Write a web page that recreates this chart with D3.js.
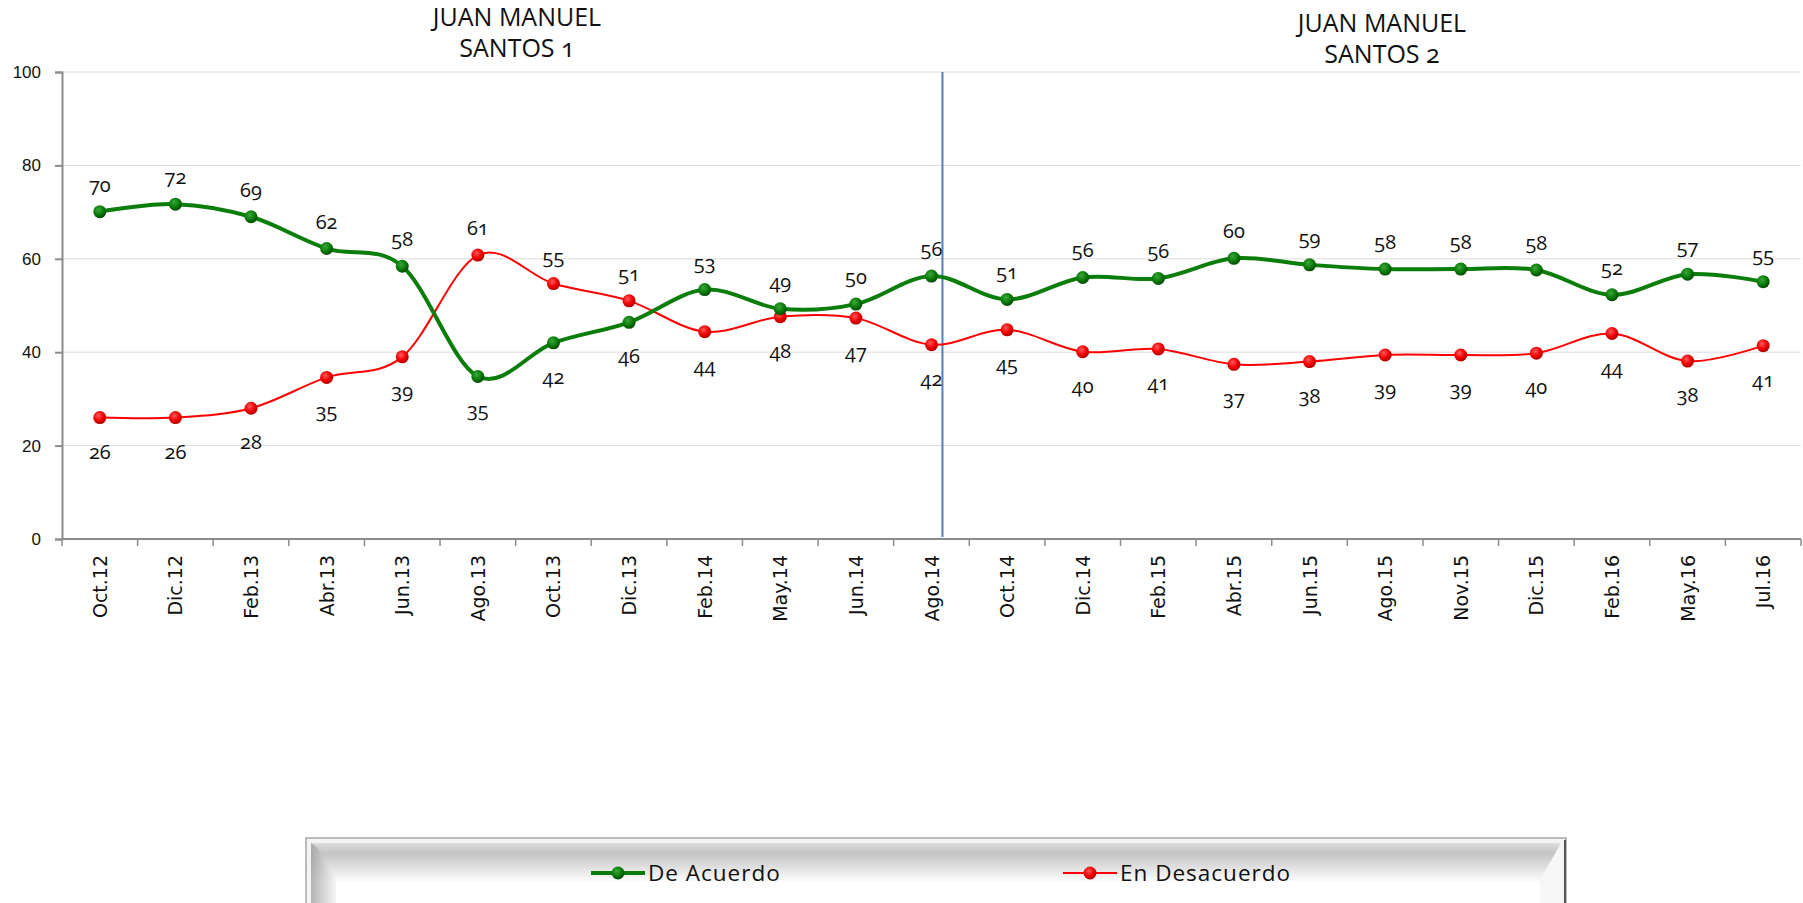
<!DOCTYPE html>
<html>
<head>
<meta charset="utf-8">
<script src="https://cdn.jsdelivr.net/npm/d3@7"></script>
<style>
  body { margin: 0; background: #fff; }
  svg { display: block; font-family: "Open Sans", sans-serif; }
  .lbl { font-size: 20px; fill: #111; font-feature-settings: "onum"; }
  .ytick text { font-size: 17px; fill: #111; font-feature-settings: "onum"; }
  .xlbl { font-family: "DejaVu Sans", Verdana, sans-serif; font-size: 19px; fill: #111; }
</style>
</head>
<body>
<svg width="1803" height="903"></svg>
<script>
// categories (survey dates)
var fechas = ["Oct.12", "Dic.12", "Feb.13", "Abr.13", "Jun.13", "Ago.13", "Oct.13", "Dic.13",
  "Feb.14", "May.14", "Jun.14", "Ago.14", "Oct.14", "Dic.14", "Feb.15", "Abr.15", "Jun.15",
  "Ago.15", "Nov.15", "Dic.15", "Feb.16", "May.16", "Jul.16"];

// series
var deAcuerdo = [70.1, 71.7, 69.0, 62.2, 58.4, 34.8, 42.0, 46.4, 53.4, 49.3, 50.3, 56.3, 51.3,
  56.0, 55.8, 60.1, 58.7, 57.8, 57.8, 57.6, 52.3, 56.7, 55.1];
var enDesacuerdo = [26.0, 26.0, 28.0, 34.6, 39.0, 60.8, 54.7, 51.0, 44.4, 47.6, 47.3, 41.6, 44.8,
  40.1, 40.7, 37.4, 38.0, 39.4, 39.4, 39.8, 44.0, 38.1, 41.4];

var yTicks = [0, 20, 40, 60, 80, 100];
var periodos = [["JUAN MANUEL", "SANTOS 1"], ["JUAN MANUEL", "SANTOS 2"]];
var corte = "Ago.14"; // end of first term
var leyenda = ["De Acuerdo", "En Desacuerdo"];

var svg = d3.select("svg");
var plotLeft = 62, plotRight = 1801, plotTop = 72, plotBottom = 539;

var x = d3.scaleBand().domain(fechas).range([plotLeft, plotRight]);
var y = d3.scaleLinear().domain([0, 100]).range([plotBottom, plotTop]);
var cx = function (d) { return x(d) + x.bandwidth() / 2; };

// gradients for markers / legend
var defs = svg.append("defs");
function ball(id, c1, c2, c3) {
  var g = defs.append("radialGradient").attr("id", id)
    .attr("cx", "40%").attr("cy", "35%").attr("r", "65%");
  g.append("stop").attr("offset", "0%").attr("stop-color", c1);
  g.append("stop").attr("offset", "60%").attr("stop-color", c2);
  g.append("stop").attr("offset", "100%").attr("stop-color", c3);
}
ball("gBall", "#3aa83a", "#0a7a0a", "#004a00");
ball("rBall", "#ff5a5a", "#f00000", "#b00000");

var lg = defs.append("linearGradient").attr("id", "legTop")
  .attr("x1", 0).attr("y1", 0).attr("x2", 0).attr("y2", 1);
lg.append("stop").attr("offset", "0%").attr("stop-color", "#dedede");
lg.append("stop").attr("offset", "25%").attr("stop-color", "#c4c4c4");
lg.append("stop").attr("offset", "100%").attr("stop-color", "#ffffff");
var lgL = defs.append("linearGradient").attr("id", "legLeft")
  .attr("x1", 0).attr("y1", 0).attr("x2", 1).attr("y2", 0);
lgL.append("stop").attr("offset", "0%").attr("stop-color", "#a0a0a0");
lgL.append("stop").attr("offset", "100%").attr("stop-color", "#f4f4f4");

// gridlines
svg.append("g").selectAll("line").data(yTicks.filter(function (d) { return d > 0; }))
  .enter().append("line")
  .attr("x1", plotLeft).attr("x2", plotRight)
  .attr("y1", function (d) { return y(d); }).attr("y2", function (d) { return y(d); })
  .attr("stroke", "#dcdcdc").attr("stroke-width", 1);

// y axis
var yAxis = svg.append("g").attr("class", "ytick")
  .attr("transform", "translate(" + plotLeft + ",0)")
  .call(d3.axisLeft(y).tickValues(yTicks).tickSize(7).tickPadding(14));
yAxis.select(".domain").attr("stroke", "#8c8c8c").attr("stroke-width", 2);
yAxis.selectAll(".tick line").attr("stroke", "#8c8c8c").attr("stroke-width", 2);

// x axis (ticks between categories)
var xg = svg.append("g");
xg.append("line").attr("x1", plotLeft).attr("x2", plotRight).attr("y1", plotBottom).attr("y2", plotBottom)
  .attr("stroke", "#8c8c8c").attr("stroke-width", 2);
var bounds = fechas.map(function (d) { return x(d); }).concat([plotRight]);
xg.selectAll(".xt").data(bounds).enter().append("line")
  .attr("x1", function (d) { return d; }).attr("x2", function (d) { return d; })
  .attr("y1", plotBottom).attr("y2", plotBottom + 7)
  .attr("stroke", "#8c8c8c").attr("stroke-width", 1.5);
xg.selectAll(".xlbl").data(fechas).enter().append("text")
  .attr("class", "xlbl")
  .attr("transform", function (d) { return "translate(" + (cx(d) + 7) + "," + (plotBottom + 16) + ") rotate(-90)"; })
  .attr("text-anchor", "end")
  .text(function (d) { return d; });

// divider between terms
var xc = x(corte) + x.bandwidth() * 0.645;
svg.append("line").attr("x1", xc).attr("x2", xc).attr("y1", y(100)).attr("y2", plotBottom - 2)
  .attr("stroke", "#4f81bd").attr("stroke-width", 2);

// period titles
var tx = [517, 1382], ty = [26, 32];
periodos.forEach(function (p, i) {
  var t = svg.append("text").attr("text-anchor", "middle")
    .attr("font-size", 25).attr("fill", "#111")
    .style("font-feature-settings", '"onum"');
  t.append("tspan").attr("x", tx[i]).attr("y", ty[i]).text(p[0]);
  t.append("tspan").attr("x", tx[i]).attr("y", ty[i] + 31).text(p[1]);
});

// lines
var line = d3.line()
  .x(function (d, i) { return cx(fechas[i]); })
  .y(function (d) { return y(d); })
  .curve(d3.curveCardinal.tension(0));

svg.append("path").datum(enDesacuerdo).attr("d", line)
  .attr("fill", "none").attr("stroke", "#ff0000").attr("stroke-width", 2);
svg.append("path").datum(deAcuerdo).attr("d", line)
  .attr("fill", "none").attr("stroke", "#0a7d0a").attr("stroke-width", 4);

// markers
svg.append("g").selectAll("circle").data(enDesacuerdo).enter().append("circle")
  .attr("cx", function (d, i) { return cx(fechas[i]); })
  .attr("cy", function (d) { return y(d); })
  .attr("r", 6.5).attr("fill", "url(#rBall)");
svg.append("g").selectAll("circle").data(deAcuerdo).enter().append("circle")
  .attr("cx", function (d, i) { return cx(fechas[i]); })
  .attr("cy", function (d) { return y(d); })
  .attr("r", 6.5).attr("fill", "url(#gBall)");

// data labels: above for the higher series, below for the lower one
var fmt = d3.format(".0f");
function labels(vals, other) {
  svg.append("g").selectAll("text").data(vals).enter().append("text")
    .attr("class", "lbl").attr("text-anchor", "middle")
    .attr("x", function (d, i) { return cx(fechas[i]); })
    .attr("y", function (d, i) { return d >= other[i] ? y(d) - 20 : y(d) + 41; })
    .text(function (d) { return fmt(d); });
}
labels(deAcuerdo, enDesacuerdo);
labels(enDesacuerdo, deAcuerdo);

// legend
var leg = svg.append("g");
leg.append("rect").attr("x", 306).attr("y", 838).attr("width", 1260).attr("height", 80)
  .attr("fill", "#f4f4f4").attr("stroke", "#a8a8a8").attr("stroke-width", 1.5);
leg.append("rect").attr("x", 311).attr("y", 843).attr("width", 1250).attr("height", 40)
  .attr("fill", "url(#legTop)");
leg.append("rect").attr("x", 311).attr("y", 882).attr("width", 1250).attr("height", 30).attr("fill", "#fff");
leg.append("polygon").attr("points", "311,843 318,848 336,880 336,903 311,903")
  .attr("fill", "url(#legLeft)").attr("opacity", 0.8);
leg.append("polygon").attr("points", "1561,843 1561,903 1540,903 1540,880")
  .attr("fill", "#f7f7f7");
leg.append("line").attr("x1", 1565).attr("x2", 1565).attr("y1", 840).attr("y2", 903)
  .attr("stroke", "#555").attr("stroke-width", 2);

var legX = [591, 1063], legCol = ["#0a7d0a", "#ff0000"], legW = [4, 2], legB = ["url(#gBall)", "url(#rBall)"];
leyenda.forEach(function (name, i) {
  leg.append("line").attr("x1", legX[i]).attr("x2", legX[i] + 54).attr("y1", 873).attr("y2", 873)
    .attr("stroke", legCol[i]).attr("stroke-width", legW[i]);
  leg.append("circle").attr("cx", legX[i] + 27).attr("cy", 873).attr("r", 6.5).attr("fill", legB[i]);
  leg.append("text").attr("x", legX[i] + 57).attr("y", 881)
    .attr("font-size", 22.5).attr("letter-spacing", 1).attr("fill", "#111").text(name);
});
</script>
</body>
</html>
